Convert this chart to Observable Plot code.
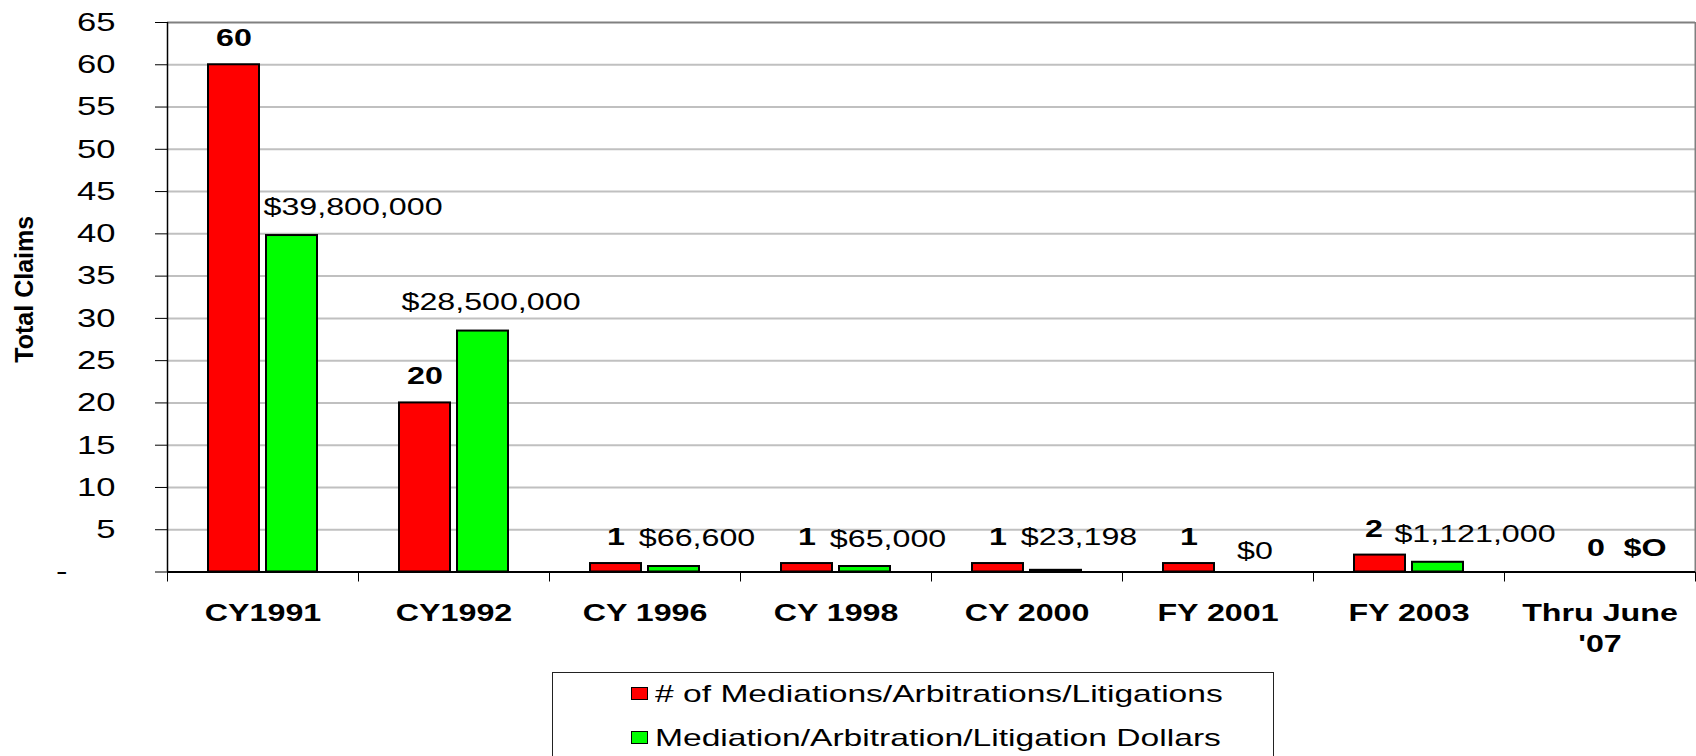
<!DOCTYPE html>
<html>
<head>
<meta charset="utf-8">
<script src="https://cdn.jsdelivr.net/npm/d3@7"></script>
<script src="https://cdn.jsdelivr.net/npm/@observablehq/plot@0.6"></script>
<style>
  body { margin: 0; background: #fff; overflow: hidden; font-family: "Liberation Sans", Arial, sans-serif; }
  #legend { position: relative; margin-left: 552px; margin-top: 4px; width: 722px; height: 120px; border: 1.5px solid #222; box-sizing: border-box; }
  .row { position: absolute; left: 78px; height: 24px; display: flex; align-items: center; white-space: nowrap; }
  .sw { width: 15px; height: 11px; border: 1.5px solid #000; flex: none; }
  .lt { display: inline-block; font-size: 24px; line-height: 24px; margin-left: 7px; transform: scaleX(1.4); transform-origin: left center; color: #000; }
</style>
</head>
<body>
<div id="chart"></div>
<div id="legend"></div>
<script>
// ---- data ----
const categories = ["CY1991", "CY1992", "CY 1996", "CY 1998", "CY 2000", "FY 2001", "FY 2003", "Thru June\n'07"];
const claimCounts = [60, 20, 1, 1, 1, 1, 2, 0];
const dollarBarHeights = [39.8, 28.5, 0.65, 0.65, 0.2, 0, 1.15, 0];
const dollarLabels = ["$39,800,000", "$28,500,000", "$66,600", "$65,000", "$23,198", "$0", "$1,121,000", "$O"];
const seriesNames = ["# of Mediations/Arbitrations/Litigations", "Mediation/Arbitration/Litigation Dollars"];
const seriesColors = ["#ff0000", "#00ff00"];
const yTicks = [0, 5, 10, 15, 20, 25, 30, 35, 40, 45, 50, 55, 60, 65];
const yTitle = "Total Claims";

const rows = categories.map((cat, i) => ({
  cat, count: claimCounts[i], countLabel: String(claimCounts[i]),
  dollars: dollarBarHeights[i], dollarLabel: dollarLabels[i]
}));

// ---- layout ----
const W = 1696, H = 668, mL = 167, mR = 1, mT = 22, mB = H - 571.5;
const half = (W - mL - mR) / categories.length / 2;
const K = 1.4; // horizontal text stretch of the original picture

const countLabel = (i, dx, dy) =>
  Plot.text([rows[i]], {x: "cat", y: "count", text: "countLabel", dx, dy, fontWeight: "bold", fontSize: 23});
const dollarLabel = (i, dx, dy, fontWeight = "normal") =>
  Plot.text([rows[i]], {x: "cat", y: "dollars", text: "dollarLabel", dx, dy, fontWeight, fontSize: 23});

const chart = Plot.plot({
  width: W, height: H,
  marginLeft: mL, marginRight: mR, marginTop: mT, marginBottom: mB,
  style: {fontFamily: '"Liberation Sans", Arial, sans-serif', fontSize: "24px", color: "#000", background: "#fff", overflow: "visible"},
  x: {domain: categories, padding: 0, label: null},
  y: {domain: [0, 65], label: null},
  marks: [
    Plot.ruleY(yTicks.filter(d => d > 0 && d < 65), {stroke: "#c0c0c0", strokeWidth: 2}),
    Plot.ruleY([65], {stroke: "#808080", strokeWidth: 2}),
    Plot.ruleX([categories[categories.length - 1]], {dx: half, stroke: "#808080", strokeWidth: 2}),
    Plot.barY(rows.filter(d => d.count > 0), {x: "cat", y: "count", fill: seriesColors[0], stroke: "#000", strokeWidth: 2, insetLeft: 41, insetRight: 99}),
    Plot.barY(rows.filter(d => d.dollars > 0), {x: "cat", y: "dollars", fill: seriesColors[1], stroke: "#000", strokeWidth: 2, insetLeft: 99, insetRight: 41}),
    Plot.ruleX([categories[0]], {dx: -half, stroke: "#000", strokeWidth: 1.5}),
    Plot.ruleY([0], {stroke: "#000", strokeWidth: 2}),
    Plot.axisY({ticks: yTicks, tickSize: 12, tickPadding: 40, fontSize: 26, stroke: "#000",
      tickFormat: d => d === 0 ? "-\u00a0\u00a0\u00a0\u00a0\u00a0" : String(d)}),
    Plot.axisX({ticks: categories, tickSize: 10, tickFormat: () => "", dx: -half, stroke: "#000"}),
    Plot.axisX({ticks: [categories[categories.length - 1]], tickSize: 10, tickFormat: () => "", dx: half, stroke: "#000"}),
    Plot.axisX({ticks: categories, tickSize: 0, tickPadding: 27, fontWeight: "bold", fontSize: 23, lineHeight: 1.35}),
    ...[0, 1, 2, 3, 4, 5].map(i => countLabel(i, -29, -26)),
    countLabel(6, -35, -25),
    countLabel(7, -4, -23),
    dollarLabel(0, 90, -28),
    dollarLabel(1, 37, -28),
    dollarLabel(2, 52, -28),
    dollarLabel(3, 52, -27),
    dollarLabel(4, 52, -33),
    dollarLabel(5, 37, -20),
    dollarLabel(6, 66, -28),
    dollarLabel(7, 45, -23, "bold"),
    Plot.text([yTitle], {frameAnchor: "left", textAnchor: "middle", rotate: -90, dx: -143, dy: -8, fontWeight: "bold", fontSize: 25})
  ]
});

document.getElementById("chart").append(chart);
chart.style.display = "block";

// x tick labels bold (fallback), y tick labels size
chart.querySelectorAll('[aria-label="x-axis tick label"] text').forEach(t => t.setAttribute("font-weight", "bold"));
const yLabelGroup = chart.querySelector('[aria-label="y-axis tick label"]');
if (yLabelGroup) {
  yLabelGroup.setAttribute("font-size", "26");
  yLabelGroup.style.fontSize = "26px";
}

// horizontal stretch of horizontal texts
chart.querySelectorAll("text").forEach(t => {
  if (t.closest('[transform*="rotate"]')) return;
  const k = yLabelGroup && yLabelGroup.contains(t) ? 1.33 : K;
  const parts = t.querySelectorAll("tspan");
  (parts.length ? [...parts] : [t]).forEach(el => {
    const L = el.getComputedTextLength();
    if (L > 0) {
      el.setAttribute("textLength", (L * k).toFixed(2));
      el.setAttribute("lengthAdjust", "spacingAndGlyphs");
    }
  });
});

// legend
const legend = document.getElementById("legend");
seriesNames.forEach((name, i) => {
  const row = document.createElement("div");
  row.className = "row";
  row.style.top = (i === 0 ? 8.5 : 52.5) + "px";
  const sw = document.createElement("span");
  sw.className = "sw";
  sw.style.background = seriesColors[i];
  const lt = document.createElement("span");
  lt.className = "lt";
  lt.textContent = name;
  row.append(sw, lt);
  legend.append(row);
});
</script>
</body>
</html>
